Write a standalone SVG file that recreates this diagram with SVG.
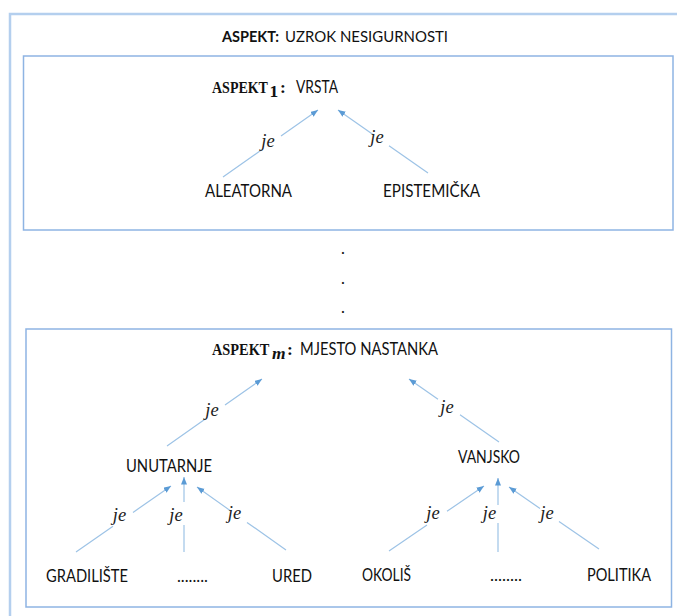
<svg xmlns="http://www.w3.org/2000/svg" width="677" height="616" viewBox="0 0 677 616">
<style>
.frame{fill:none;stroke:#b4cfee;stroke-width:2.5}
.box{fill:#fff;stroke:#8eb4e3;stroke-width:1.5}
.lbl{font-family:Lato,"Liberation Sans",sans-serif;font-size:16.5px;fill:#111}
.ttl{font-family:Lato,"Liberation Sans",sans-serif;font-size:14.5px;fill:#111}
.b{font-weight:bold}
.ser{font-family:"Liberation Serif","DejaVu Serif",serif;font-weight:bold;font-size:17.5px;fill:#111}
.je{font-family:"Liberation Serif","DejaVu Serif",serif;font-style:italic;font-size:18.5px;fill:#222;text-anchor:middle}
.con{fill:none;stroke:#9dc3e6;stroke-width:1.2;marker-end:url(#ah)}
</style>
<defs>
<marker id="ah" markerUnits="userSpaceOnUse" markerWidth="8" markerHeight="7" refX="7.5" refY="3" orient="auto">
<path d="M0,0 L7.5,3 L0,6 z" fill="#5b9bd5"/>
</marker>
</defs>
<rect width="677" height="616" fill="#fff"/>
<g id="outer">
<rect class="frame" x="10" y="14" width="680" height="620"/>
<text class="ttl" x="222" y="42"><tspan class="b" textLength="57" lengthAdjust="spacingAndGlyphs">ASPEKT:</tspan><tspan x="285" textLength="163" lengthAdjust="spacingAndGlyphs">UZROK NESIGURNOSTI</tspan></text>
</g>
<g id="aspekt1">
<rect class="box" x="23.5" y="56" width="649.5" height="174"/>
<text class="ser" transform="translate(212,93) scale(0.8,1)">ASPEKT</text>
<text class="ser" x="269.5" y="97" font-size="12">1</text>
<text class="ser" x="280" y="93">:</text>
<text class="lbl" x="296" y="93" textLength="42" lengthAdjust="spacingAndGlyphs">VRSTA</text>
</g>
<g id="aleatorna"><text class="lbl" x="205" y="197" textLength="87" lengthAdjust="spacingAndGlyphs">ALEATORNA</text></g>
<g id="epistemicka"><text class="lbl" x="383" y="197" textLength="97" lengthAdjust="spacingAndGlyphs">EPISTEMIČKA</text></g>
<g id="dots">
<text class="lbl" x="343" y="254" text-anchor="middle">.</text>
<text class="lbl" x="343" y="284" text-anchor="middle">.</text>
<text class="lbl" x="343" y="313" text-anchor="middle">.</text>
</g>
<g id="aspektm">
<rect class="box" x="26" y="329" width="645.5" height="278"/>
<text class="ser" transform="translate(212,355) scale(0.82,1)">ASPEKT</text>
<text class="ser" x="272" y="359" font-size="14" font-style="italic" font-weight="normal">m</text>
<text class="ser" x="287" y="355">:</text>
<text class="lbl" x="300" y="355" textLength="138" lengthAdjust="spacingAndGlyphs">MJESTO NASTANKA</text>
</g>
<g id="unutarnje"><text class="lbl" x="126" y="472" textLength="86" lengthAdjust="spacingAndGlyphs">UNUTARNJE</text></g>
<g id="vanjsko"><text class="lbl" x="458" y="463" textLength="62" lengthAdjust="spacingAndGlyphs">VANJSKO</text></g>
<g id="gradiliste"><text class="lbl" x="46" y="582" textLength="82" lengthAdjust="spacingAndGlyphs">GRADILIŠTE</text></g>
<g id="ostalo1"><text class="lbl" x="177" y="582" textLength="31" lengthAdjust="spacingAndGlyphs">........</text></g>
<g id="ured"><text class="lbl" x="272" y="582" textLength="40" lengthAdjust="spacingAndGlyphs">URED</text></g>
<g id="okolis"><text class="lbl" x="362" y="581" textLength="49" lengthAdjust="spacingAndGlyphs">OKOLIŠ</text></g>
<g id="ostalo2"><text class="lbl" x="490" y="581" textLength="32" lengthAdjust="spacingAndGlyphs">........</text></g>
<g id="politika"><text class="lbl" x="587" y="581" textLength="64" lengthAdjust="spacingAndGlyphs">POLITIKA</text></g>
<g id="connectors">
<path class="con" d="M223,177 L262,149.5 M281,136 L318,110"/>
<text class="je" x="268" y="147">je</text>
<path class="con" d="M428,173 L389,145.7 M373,134.5 L338,110"/>
<text class="je" x="377" y="143">je</text>
<path class="con" d="M167,446 L206,418.5 M225,405 L262,379"/>
<text class="je" x="212" y="416">je</text>
<path class="con" d="M499,442 L460,414.7 M438,399.3 L409,379"/>
<text class="je" x="447" y="413">je</text>
<path class="con" d="M76,552 L113,526.3 M133,512.4 L171,486"/>
<text class="je" x="119.5" y="521">je</text>
<path class="con" d="M184,552 L184,525 M184,502 L184,477"/>
<text class="je" x="176" y="521">je</text>
<path class="con" d="M286,550 L247,522.4 M230,510.4 L197,487"/>
<text class="je" x="234.5" y="519">je</text>
<path class="con" d="M389,551 L427,525 M447,511.3 L484,486"/>
<text class="je" x="433" y="519">je</text>
<path class="con" d="M498,552 L498,523 M498,505 L498,478"/>
<text class="je" x="489.5" y="519">je</text>
<path class="con" d="M599,549 L559,521.4 M540,508.4 L509,487"/>
<text class="je" x="547" y="519">je</text>
</g>
</svg>
